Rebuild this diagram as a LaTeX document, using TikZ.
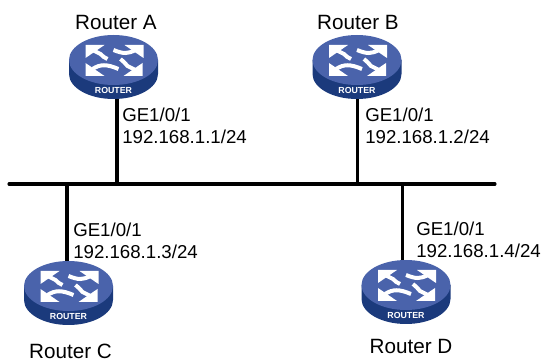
\documentclass[tikz,border=0pt]{standalone}
\usepackage{fontspec}
\setmainfont{Liberation Sans}
\usetikzlibrary{shapes.geometric,calc}

\definecolor{routertop}{HTML}{4A63AB}
\definecolor{routerside}{HTML}{1B3A7C}

\tikzset{
  routertext/.style={font=\bfseries\fontsize{6.6pt}{7pt}\selectfont,text=white,inner sep=0pt},
  routerarrow/.style={draw=white,line width=3pt,fill=none},
  routerhead/.style={fill=white,draw=none},
  portlabel/.style={anchor=north west,inner sep=0pt,align=left,font=\fontsize{14pt}{16.2pt}\selectfont},
  namelabel/.style={inner sep=0pt,font=\fontsize{15.5pt}{18pt}\selectfont},
  link/.style={line width=2.3pt},
  router/.pic={
    \def\RX{44.5}
    \def\RY{25}
    \def\H{14}
    % side first, the top surface goes over it
    \fill[routerside] (-\RX,0) -- (-\RX,-\H)
      arc[start angle=180, end angle=360, x radius=\RX, y radius=\RY] -- (\RX,0) -- cycle;
    \node[ellipse,fill=routertop,inner sep=0pt,minimum width=89*0.75pt,minimum height=50*0.75pt] (-top) at (0,0) {};
    \coordinate (-bottom) at (0,-\H-\RY);
    \node[routertext] (-text) at (0,-\H-16) {ROUTER};
    % the four arrows
    \draw[routerarrow] (-21,10) -- (-13,6) .. controls (-11,4) and (-9,2) .. (-6,1);
    \fill[routerhead] (-28,15) -- (-9,15) -- (-28,2) -- cycle;
    \draw[routerarrow] (22,10) .. controls (14,6) and (10,6) .. (0,10);
    \fill[routerhead] (30,15) -- (11,15) -- (30,2) -- cycle;
    \draw[routerarrow] (-21,-9) .. controls (-13,-4) and (-7,-4) .. (5,-9);
    \fill[routerhead] (-28,-16) -- (-9,-16) -- (-28,-3) -- cycle;
    \draw[routerarrow] (22,-10) -- (14,-6) .. controls (12,-4) and (10,-1) .. (7,1);
    \fill[routerhead] (29,-16) -- (10,-16) -- (29,-3) -- cycle;
  }
}

\begin{document}
\begin{tikzpicture}[x=0.75pt,y=0.75pt]
\useasboundingbox (0,0) rectangle (544,361);

\coordinate (busL) at (9,177);
\coordinate (busR) at (495,177);

\pic (ra) at (113.5,301) {router};
\pic (rb) at (357,301) {router};
\pic (rc) at (68.5,75) {router};
\pic (rd) at (406,76) {router};

\draw[link,line cap=round] (busL) -- (busR);

\coordinate (busA) at (117,177);
\coordinate (busB) at (357.5,177);
\coordinate (busC) at (67,177);
\coordinate (busD) at (402.5,177);

\draw[link] (busA) -- (busA |- ra-bottom);
\draw[link] (busB) -- (busB |- rb-bottom);
\draw[link] (busC) -- (busC |- rc-top.north);
\draw[link] (busD) -- (busD |- rd-top.north);

\node[namelabel] (nameA) at (116,339) {Router A};
\node[namelabel] (nameB) at (358,339) {Router B};
\node[namelabel] (nameC) at (70.5,10) {Router C};
\node[namelabel] (nameD) at (411,15) {Router D};

\node[portlabel] (portA) at (122,253) {GE1/0/1\\192.168.1.1/24};
\node[portlabel] (portB) at (365,253) {GE1/0/1\\192.168.1.2/24};
\node[portlabel] (portC) at (73,138) {GE1/0/1\\192.168.1.3/24};
\node[portlabel] (portD) at (416,139) {GE1/0/1\\192.168.1.4/24};

\end{tikzpicture}
\end{document}
